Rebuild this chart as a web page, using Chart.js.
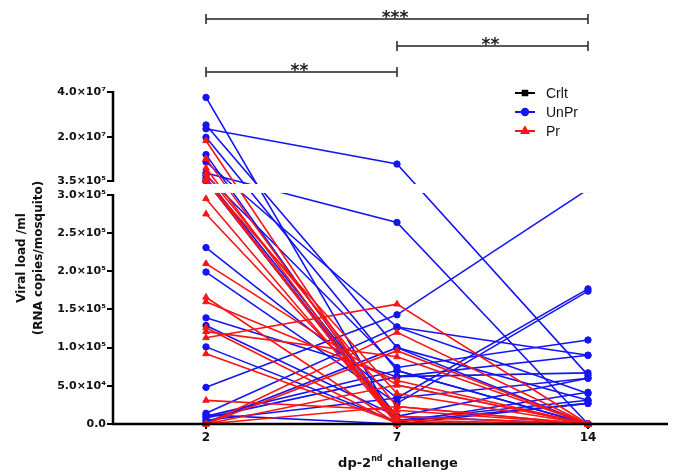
<!DOCTYPE html>
<html lang="en">
<head>
<meta charset="UTF-8">
<title>Viral load after 2nd challenge</title>
<script src="https://cdn.jsdelivr.net/npm/chart.js"></script>
<style>
  html, body { margin: 0; padding: 0; background: #fff; }
  #wrap { width: 676px; height: 474px; }
</style>
</head>
<body>
<div id="wrap"><canvas id="viralChart" width="676" height="474"></canvas></div>
<script>
// days post 2nd challenge (x categories)
const days = ['2', '7', '14'];

// UnPr mosquitoes: one entry per mosquito, viral load at day 2 / 7 / 14
const unprD2  = [3.76e7, 2.53e7, 2.36e7, 1.98e7, 1.21e7, 8.8e6, 3.9e6, 3.0e6, 1.8e6, 6.0e5, 3.5e5, 2.31e5, 1.99e5, 1.39e5, 1.29e5, 1.01e5, 4.8e4, 1.4e4, 1.0e4, 8.0e3, 5.0e3, 2.0e3, 1.2e4];
const unprD7  = [0,      1.0e5,  7.9e6,  7.0e4,  2.0e3,  1.27e5, 2.64e5, 7.4e4, 1.0e4, 5.0e3, 0,     3.4e4,  2.7e4,  6.2e4,  1.0e4,  3.0e3,  1.43e5, 1.27e5, 7.0e4, 6.2e4, 3.4e4, 1.0e5, 0];
const unprD14 = [2.7e4,  0,      6.4e4,  0,      4.15e4, 9.0e4,  0,      1.1e5, 6.0e4, 3.1e4, 0,     1.77e5, 1.74e5, 6.7e4,  0,      2.7e4,  3.2e5,  4.0e4,  0,     9.0e4, 6.0e4, 3.1e4, 0];

// Pr mosquitoes
const prD2  = [1.83e7, 1.03e7, 6.1e6, 3.5e6, 1.4e6, 5.0e5, 3.5e5, 2.95e5, 2.75e5, 2.1e5, 1.66e5, 1.6e5, 1.26e5, 1.21e5, 1.13e5, 9.2e4, 3.1e4, 0,     0,     0,     0,     0];
const prD7  = [0,      5.0e3,  0,     2.3e4, 0,     0,     4.0e4, 0,      1.0e4,  5.1e4, 0,      5.7e4, 0,      8.8e4,  1.57e5, 2.0e3, 1.8e4, 1.2e5, 9.6e4, 5.1e4, 2.3e4, 0];
const prD14 = [0,      0,      0,     0,     0,     0,     0,     0,      0,      0,     0,      0,     0,      0,      0,      0,     0,     0,     0,     0,     0,     0];

// Crlt mosquitoes (no points visible)
const crltD2 = [];
const crltD7 = [];
const crltD14 = [];

// broken y axis: lower part 0 - 3.0e5, upper part 3.5e5 - 4.0e7
const yTicks = [0, 5e4, 1e5, 1.5e5, 2e5, 2.5e5, 3e5, 3.5e5, 2e7, 4e7];
const yTickLabels = ['0.0', '5.0×10⁴', '1.0×10⁵', '1.5×10⁵', '2.0×10⁵', '2.5×10⁵', '3.0×10⁵', '3.5×10⁵', '2.0×10⁷', '4.0×10⁷'];
const lowMax = 3e5, upMin = 3.5e5, upMax = 4e7;

// significance brackets: from day index, to day index, stars
const bracketFrom = [0, 1, 0];
const bracketTo = [2, 2, 1];
const bracketStars = ['***', '**', '**'];

const BLUE = 'rgb(20,20,245)';
const RED = 'rgb(250,20,20)';
const BLACK = '#000';
const LOW_FRAC = 0.69, GAP_FRAC = 0.042;

class BrokenScale extends Chart.LinearScale {
    buildTicks() {
        return yTicks.map(v => ({ value: v }));
    }
    getPixelForValue(v) {
        const h = this.bottom - this.top;
        const lowH = h * LOW_FRAC, gapH = h * GAP_FRAC, upH = h - lowH - gapH;
        if (v <= lowMax) return this.bottom - v / lowMax * lowH;
        if (v < upMin) return this.bottom - lowH - (v - lowMax) / (upMin - lowMax) * gapH;
        return this.top + upH - (v - upMin) / (upMax - upMin) * upH;
    }
    getValueForPixel(p) {
        const h = this.bottom - this.top;
        const lowH = h * LOW_FRAC, gapH = h * GAP_FRAC, upH = h - lowH - gapH;
        const d = this.bottom - p;
        if (d <= lowH) return d / lowH * lowMax;
        if (d <= lowH + gapH) return lowMax + (d - lowH) / gapH * (upMin - lowMax);
        return upMin + (d - lowH - gapH) / upH * (upMax - upMin);
    }
}
BrokenScale.id = 'broken';
BrokenScale.defaults = Chart.LinearScale.defaults;
Chart.register(BrokenScale);

function subjectSets(d2, d7, d14, label, color, style, radius, order) {
    return d2.map((v, i) => ({
        label: label,
        data: [v, d7[i], d14[i]].map((y, x) => ({ x: x, y: y })),
        borderColor: color,
        backgroundColor: color,
        borderWidth: 1.6,
        pointStyle: style,
        pointRadius: radius,
        pointHoverRadius: radius,
        pointBorderWidth: 1,
        tension: 0,
        clip: false,
        order: order
    }));
}

const datasets = [].concat(
    subjectSets(crltD2, crltD7, crltD14, 'Crlt', BLACK, 'rect', 3.2, 0),
    subjectSets(prD2, prD7, prD14, 'Pr', RED, 'triangle', 3.8, 1),
    subjectSets(unprD2, unprD7, unprD14, 'UnPr', BLUE, 'circle', 3.2, 2)
);

const legendItems = [
    { label: 'Crlt', color: BLACK, style: 'rect', radius: 3.2 },
    { label: 'UnPr', color: BLUE, style: 'circle', radius: 3.2 },
    { label: 'Pr', color: RED, style: 'triangle', radius: 3.8 }
];

const extrasPlugin = {
    id: 'extras',
    afterDatasetsDraw(chart) {
        const ctx = chart.ctx, area = chart.chartArea;
        const y = chart.scales.y;
        const gapTop = y.getPixelForValue(upMin) + 3;
        const gapBottom = y.getPixelForValue(lowMax) - 2;
        ctx.save();
        // white band for the axis break
        ctx.fillStyle = '#fff';
        ctx.fillRect(area.left + 2, gapTop, area.right - area.left + 10, gapBottom - gapTop);
        // axis lines (y axis split in two parts)
        ctx.strokeStyle = BLACK;
        ctx.lineWidth = 2.5;
        ctx.lineCap = 'butt';
        ctx.beginPath();
        ctx.moveTo(area.left, y.getPixelForValue(upMax) - 1);
        ctx.lineTo(area.left, y.getPixelForValue(upMin) + 1);
        ctx.moveTo(area.left, y.getPixelForValue(lowMax) - 1);
        ctx.lineTo(area.left, area.bottom + 1.25);
        ctx.moveTo(area.left - 1.25, area.bottom);
        ctx.lineTo(area.right, area.bottom);
        ctx.stroke();
        ctx.restore();
    },
    afterDraw(chart) {
        const ctx = chart.ctx;
        const x = chart.scales.x;
        ctx.save();

        // significance brackets
        const bracketY = [19, 46, 72];
        ctx.strokeStyle = '#222';
        ctx.fillStyle = '#222';
        ctx.lineWidth = 1.5;
        ctx.font = 'bold 17px "DejaVu Sans"';
        ctx.textAlign = 'center';
        ctx.textBaseline = 'alphabetic';
        bracketFrom.forEach((f, i) => {
            const x1 = x.getPixelForValue(f), x2 = x.getPixelForValue(bracketTo[i]);
            const by = bracketY[i];
            ctx.beginPath();
            ctx.moveTo(x1, by); ctx.lineTo(x2, by);
            ctx.moveTo(x1, by - 5); ctx.lineTo(x1, by + 5);
            ctx.moveTo(x2, by - 5); ctx.lineTo(x2, by + 5);
            ctx.stroke();
            ctx.fillText(bracketStars[i], (x1 + x2) / 2 - 2, by + 3.5);
        });

        // legend
        legendItems.forEach((item, i) => {
            const ly = 93 + i * 19;
            ctx.strokeStyle = item.color;
            ctx.fillStyle = item.color;
            ctx.lineWidth = 2;
            ctx.beginPath();
            ctx.moveTo(515, ly); ctx.lineTo(535, ly);
            ctx.stroke();
            Chart.helpers.drawPoint(ctx, { pointStyle: item.style, radius: item.radius, borderWidth: 1 }, 525, ly);
            ctx.fillStyle = '#111';
            ctx.font = '14px "Liberation Sans"';
            ctx.textAlign = 'left';
            ctx.textBaseline = 'middle';
            ctx.fillText(item.label, 546, ly + 1);
        });

        // x axis title with superscript
        const parts = ['dp-2', 'nd', ' challenge'];
        const big = 'bold 13px "DejaVu Sans"', small = 'bold 8px "DejaVu Sans"';
        ctx.fillStyle = '#111';
        ctx.textAlign = 'left';
        ctx.textBaseline = 'alphabetic';
        ctx.font = big; const w0 = ctx.measureText(parts[0]).width, w2 = ctx.measureText(parts[2]).width;
        ctx.font = small; const w1 = ctx.measureText(parts[1]).width;
        let tx = 398 - (w0 + w1 + w2) / 2;
        const ty = 467;
        ctx.font = big; ctx.fillText(parts[0], tx, ty); tx += w0;
        ctx.font = small; ctx.fillText(parts[1], tx, ty - 6); tx += w1;
        ctx.font = big; ctx.fillText(parts[2], tx, ty);
        ctx.restore();
    }
};

const tickFont = { family: 'DejaVu Sans', size: 11, weight: 'bold' };

new Chart(document.getElementById('viralChart').getContext('2d'), {
    type: 'line',
    data: { datasets: datasets },
    options: {
        responsive: false,
        animation: false,
        layout: { padding: { top: 92, right: 8, bottom: 0, left: 0 } },
        plugins: {
            legend: { display: false },
            tooltip: { enabled: false }
        },
        scales: {
            x: {
                type: 'linear',
                min: -0.487,
                max: 2.419,
                afterBuildTicks: s => { s.ticks = days.map((d, i) => ({ value: i })); },
                ticks: {
                    callback: v => days[v],
                    font: { family: 'DejaVu Sans', size: 12, weight: 'bold' },
                    color: '#111',
                    padding: 2,
                    autoSkip: false,
                    maxRotation: 0
                },
                grid: { drawOnChartArea: false, tickLength: 5, color: BLACK, lineWidth: 2 },
                border: { display: false },
                afterFit: s => { s.height = 50; }
            },
            y: {
                type: 'broken',
                min: 0,
                max: upMax,
                ticks: {
                    callback: v => yTickLabels[yTicks.indexOf(v)],
                    font: tickFont,
                    color: '#111',
                    padding: 1,
                    autoSkip: false
                },
                grid: { drawOnChartArea: false, tickLength: 6, color: BLACK, lineWidth: 2 },
                border: { display: false },
                title: {
                    display: true,
                    text: ['Viral load /ml', '(RNA copies/mosquito)'],
                    font: { family: 'DejaVu Sans', size: 12, weight: 'bold', lineHeight: 1.45 },
                    color: '#111',
                    padding: { top: 13, bottom: 0 }
                },
                afterFit: s => { s.width = 113; }
            }
        }
    },
    plugins: [extrasPlugin]
});
</script>
</body>
</html>
